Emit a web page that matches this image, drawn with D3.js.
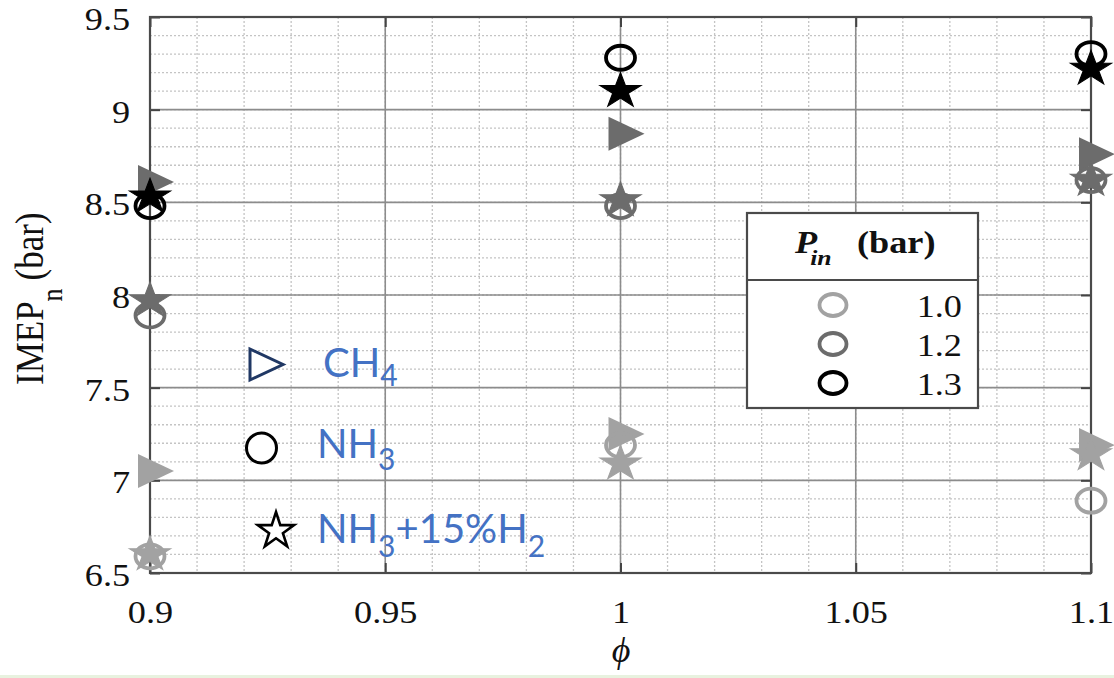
<!DOCTYPE html>
<html>
<head>
<meta charset="utf-8">
<script src="https://cdn.jsdelivr.net/npm/d3@7"></script>
<style>
  body { margin: 0; background: #fff; }
  svg { display: block; }
</style>
</head>
<body>
<div id="chart"></div>
<script>
// equivalence ratio values
var phi = [0.9, 1.0, 1.1];

// IMEP_n (bar), one array per fuel / inlet pressure
var ch4P10 = [7.05, 7.25, 7.19];
var ch4P12 = [8.61, 8.87, 8.76];
var nh3P10 = [6.59, 7.19, 6.89];
var nh3P12 = [7.89, 8.48, 8.62];
var nh3P13 = [8.48, 9.28, 9.30];
var h2P10 = [6.60, 7.09, 7.14];
var h2P12 = [7.97, 8.51, 8.62];
var h2P13 = [8.53, 9.10, 9.22];

var pinLabels = ["1.0", "1.2", "1.3"];
var xTicks = [0.9, 0.95, 1, 1.05, 1.1];
var yTicks = [6.5, 7, 7.5, 8, 8.5, 9, 9.5];

var pinColor = {"1.0": "#a2a2a2", "1.2": "#6c6c6c", "1.3": "#000000"};

var width = 1114, height = 678;
var mLeft = 150, mRight = 1091, mTop = 17, mBottom = 573;
var SX = 1.17; // the figure is stretched sideways
var serif = "'Liberation Serif', 'Times New Roman', Times, serif";

var x = d3.scaleLinear().domain([0.9, 1.1]).range([mLeft, mRight]);
var y = d3.scaleLinear().domain([6.5, 9.5]).range([mBottom, mTop]);

var svg = d3.select("#chart").append("svg")
  .attr("width", width)
  .attr("height", height);

svg.append("rect").attr("width", width).attr("height", height).attr("fill", "#fff");
svg.append("rect").attr("x", 0).attr("y", 675).attr("width", width).attr("height", 3).attr("fill", "#e8f2df");

// minor grid (dotted)
var minorX = d3.range(0, 21).map(function(i){ return 0.9 + i * 0.01; });
var minorY = d3.range(0, 31).map(function(i){ return 6.5 + i * 0.1; });
svg.append("g").selectAll("line")
  .data(minorX)
  .enter().append("line")
  .attr("x1", function(d){ return x(d); }).attr("x2", function(d){ return x(d); })
  .attr("y1", mTop).attr("y2", mBottom)
  .attr("stroke", "#c4c4c4").attr("stroke-width", 1.3).attr("stroke-dasharray", "2,2");
svg.append("g").selectAll("line")
  .data(minorY)
  .enter().append("line")
  .attr("y1", function(d){ return y(d); }).attr("y2", function(d){ return y(d); })
  .attr("x1", mLeft).attr("x2", mRight)
  .attr("stroke", "#c4c4c4").attr("stroke-width", 1.3).attr("stroke-dasharray", "2,2");

// major grid
svg.append("g").selectAll("line")
  .data(xTicks)
  .enter().append("line")
  .attr("x1", function(d){ return x(d); }).attr("x2", function(d){ return x(d); })
  .attr("y1", mTop).attr("y2", mBottom)
  .attr("stroke", "#8c8c8c").attr("stroke-width", 1.6);
svg.append("g").selectAll("line")
  .data(yTicks)
  .enter().append("line")
  .attr("y1", function(d){ return y(d); }).attr("y2", function(d){ return y(d); })
  .attr("x1", mLeft).attr("x2", mRight)
  .attr("stroke", "#8c8c8c").attr("stroke-width", 1.6);

// axes
var yAxis = d3.axisLeft(y).tickValues(yTicks).tickSize(-10).tickPadding(17)
  .tickFormat(function(d){ return String(d); });
var xAxis = d3.axisBottom(x).tickValues(xTicks).tickSize(-10).tickPadding(28)
  .tickFormat(function(d){ return String(d); });

function styleAxis(g) {
  g.attr("font-family", null).attr("font-size", null);
  g.select(".domain").remove();
  g.selectAll(".tick line").attr("stroke", "#444").attr("stroke-width", 2);
  g.selectAll(".tick text")
    .attr("fill", "#111")
    .style("font-family", serif)
    .style("font-size", "31px")
    .attr("transform", "scale(" + SX + ",1)");
}

svg.append("g").attr("transform", "translate(" + mLeft + ",0)").call(yAxis).call(styleAxis)
  .selectAll(".tick text").attr("dy", "0.4em");
svg.append("g").attr("transform", "translate(0," + mBottom + ")").call(xAxis).call(styleAxis);
svg.append("g").attr("transform", "translate(" + mRight + ",0)")
  .call(d3.axisRight(y).tickValues(yTicks).tickSize(-10).tickFormat("")).call(styleAxis);
svg.append("g").attr("transform", "translate(0," + mTop + ")")
  .call(d3.axisTop(x).tickValues(xTicks).tickSize(-10).tickFormat("")).call(styleAxis);

svg.append("rect")
  .attr("x", mLeft).attr("y", mTop)
  .attr("width", mRight - mLeft).attr("height", mBottom - mTop)
  .attr("fill", "none").attr("stroke", "#4a4a4a").attr("stroke-width", 2.2);

// axis titles
var ylab = svg.append("text")
  .attr("transform", "translate(43,385) scale(" + SX + ",1) rotate(-90)")
  .style("font-family", serif)
  .style("font-size", "35px")
  .attr("fill", "#111");
ylab.append("tspan").text("IMEP");
ylab.append("tspan").attr("dy", 16).style("font-size", "26px").text("n");
ylab.append("tspan").attr("dy", -16).attr("dx", 8).text("(bar)");

svg.append("text")
  .attr("x", 621).attr("y", 662)
  .attr("text-anchor", "middle")
  .style("font-family", serif)
  .style("font-style", "italic")
  .style("font-size", "36px")
  .attr("fill", "#111")
  .text("\u03d5");

// marker shapes
function starPath(R) {
  var pts = [];
  for (var i = 0; i < 10; i++) {
    var r = i % 2 === 0 ? R : R * 0.382;
    var a = -Math.PI / 2 + i * Math.PI / 5;
    pts.push([r * Math.cos(a), r * Math.sin(a)]);
  }
  return "M" + pts.map(function(p){ return p[0].toFixed(2) + "," + p[1].toFixed(2); }).join("L") + "Z";
}
var triPath = "M-12,-17L24,0L-12,17Z";

function makeSeries(vals, pin) {
  return vals.map(function(v, i){ return {phi: phi[i], v: v, pin: pin}; });
}

var triData = [].concat(makeSeries(ch4P10, "1.0"), makeSeries(ch4P12, "1.2"));
var circData = [].concat(makeSeries(nh3P10, "1.0"), makeSeries(nh3P12, "1.2"), makeSeries(nh3P13, "1.3"));
var starData = [].concat(makeSeries(h2P10, "1.0"), makeSeries(h2P12, "1.2"), makeSeries(h2P13, "1.3"));

svg.append("g").selectAll("path")
  .data(triData)
  .enter().append("path")
  .attr("d", triPath)
  .attr("transform", function(d){ return "translate(" + x(d.phi) + "," + y(d.v) + ")"; })
  .attr("fill", function(d){ return pinColor[d.pin]; });

svg.append("g").selectAll("ellipse")
  .data(circData)
  .enter().append("ellipse")
  .attr("cx", function(d){ return x(d.phi); })
  .attr("cy", function(d){ return y(d.v); })
  .attr("rx", 14.5).attr("ry", 12)
  .attr("fill", "none")
  .attr("stroke", function(d){ return pinColor[d.pin]; })
  .attr("stroke-width", 3.8);

svg.append("g").selectAll("path")
  .data(starData)
  .enter().append("path")
  .attr("d", starPath(18.5))
  .attr("transform", function(d){ return "translate(" + x(d.phi) + "," + y(d.v) + ") scale(" + SX + ",1)"; })
  .attr("fill", function(d){ return pinColor[d.pin]; })
  .attr("stroke", function(d){ return pinColor[d.pin]; })
  .attr("stroke-width", 1);

// legend box
var lg = svg.append("g");
lg.append("rect").attr("x", 747).attr("y", 213).attr("width", 231).attr("height", 195)
  .attr("fill", "#fff").attr("stroke", "#4a4a4a").attr("stroke-width", 2.2);
lg.append("line").attr("x1", 747).attr("x2", 978).attr("y1", 280).attr("y2", 280)
  .attr("stroke", "#4a4a4a").attr("stroke-width", 2.2);
var hd = lg.append("g").attr("transform", "translate(795,253) scale(" + SX + ",1)")
  .style("font-family", serif)
  .style("font-weight", "bold")
  .attr("fill", "#111");
hd.append("text").style("font-style", "italic").style("font-size", "31px").text("P");
hd.append("text").attr("x", 13).attr("y", 12).style("font-style", "italic").style("font-size", "22px").text("in");
hd.append("text").attr("x", 53).style("font-size", "31px").text("(bar)");

var rows = lg.selectAll("g.row")
  .data(pinLabels)
  .enter().append("g")
  .attr("class", "row")
  .attr("transform", function(d, i){ return "translate(0," + (305 + i * 39) + ")"; });
rows.append("ellipse")
  .attr("cx", 833).attr("cy", 0).attr("rx", 13.5).attr("ry", 11)
  .attr("fill", "none")
  .attr("stroke", function(d){ return pinColor[d]; })
  .attr("stroke-width", 3.8);
rows.append("text")
  .attr("transform", "translate(962,12) scale(" + SX + ",1)")
  .attr("text-anchor", "end")
  .style("font-family", serif)
  .style("font-size", "31px")
  .attr("fill", "#111")
  .text(function(d){ return d; });

// fuel key added on top of the plot
var blue = "#4472c4";
var key = svg.append("g");
key.append("path").attr("d", "M250,349L283,364.5L250,380Z")
  .attr("fill", "#fff").attr("stroke", "#203864").attr("stroke-width", 3);
key.append("circle").attr("cx", 261.5).attr("cy", 448).attr("r", 15)
  .attr("fill", "#fff").attr("stroke", "#000").attr("stroke-width", 3);
key.append("path").attr("d", starPath(19)).attr("transform", "translate(276,531)")
  .attr("fill", "#fff").attr("stroke", "#000").attr("stroke-width", 2.6);

function keyText(xp, yp, parts, sub) {
  var t = key.append("text").attr("x", xp).attr("y", yp)
    .style("font-family", "Lato, 'Open Sans', sans-serif")
    .style("font-size", "40px")
    .attr("fill", blue);
  parts.forEach(function(p){
    if (p.s) t.append("tspan").attr("dy", sub).style("font-size", "30px").text(p.t);
    else t.append("tspan").attr("dy", p.after ? -sub : 0).text(p.t);
  });
}
keyText(323, 377, [{t: "CH"}, {t: "4", s: true}], 9);
keyText(317, 458, [{t: "NH"}, {t: "3", s: true}], 12);
keyText(317, 543, [{t: "NH"}, {t: "3", s: true}, {t: "+15%H", after: true}, {t: "2", s: true}], 14);
</script>
</body>
</html>
